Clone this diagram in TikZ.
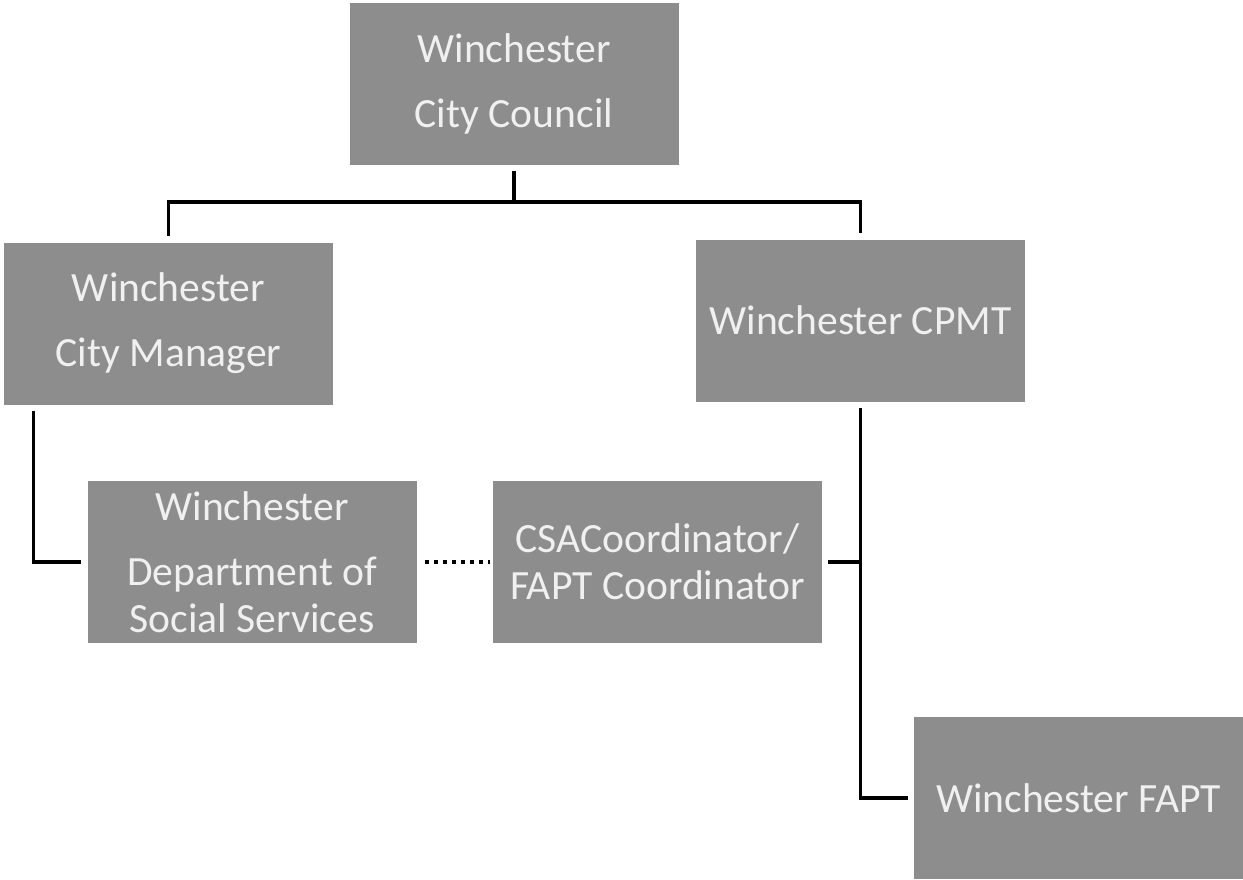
\documentclass[tikz,border=0pt]{standalone}
\usepackage{fontspec}
\setmainfont{Carlito}
\definecolor{boxgray}{RGB}{141,141,141}
\begin{document}
\begin{tikzpicture}[x=0.5pt, y=-0.5pt,
    box/.style={fill=boxgray, text=white!94!black, minimum width=164.5pt, minimum height=81pt,
        align=center, inner sep=0pt, font=\fontsize{20.8pt}{23.5pt}\selectfont},
    link/.style={line width=1.8pt, shorten <=3pt, shorten >=3pt}]
    \useasboundingbox (0,0) rectangle (1243,879);

    % Caselle dell'organigramma
    \node[box] (council) at (514,83.5) {Winchester\\[9pt]City Council};
    \node[box] (manager) at (168.5,323.5) {Winchester\\[9pt]City Manager};
    \node[box] (cpmt) at (860.5,320.5) {Winchester CPMT};
    \node[box] (dss) at (252,562) {Winchester\\[9pt]Department of\\Social Services};
    \node[box] (csa) at (657.5,562) {CSACoordinator/\\FAPT Coordinator};
    \node[box] (fapt) at (1078.5,798) {Winchester FAPT};

    % Collegamenti dal consiglio
    \coordinate (bus) at (514,202);
    \draw[link, shorten >=0pt] (council.south) -- (bus);
    \draw[link] (manager.north) |- (bus) -| (cpmt.north);

    % Collegamenti verso il basso
    \draw[link] ([xshift=15pt]manager.south west) |- (dss.west);
    \draw[link] (cpmt.south) |- (fapt.west);
    \draw[link, shorten >=0pt] (csa.east) -- (csa.east -| cpmt.south);

    % Linea tratteggiata tra DSS e coordinatore
    \draw[link, line width=2pt, dash pattern=on 2pt off 2.5pt, shorten <=4pt, shorten >=1.5pt]
        (dss.east) -- (dss.east -| csa.west);

\end{tikzpicture}
\end{document}
